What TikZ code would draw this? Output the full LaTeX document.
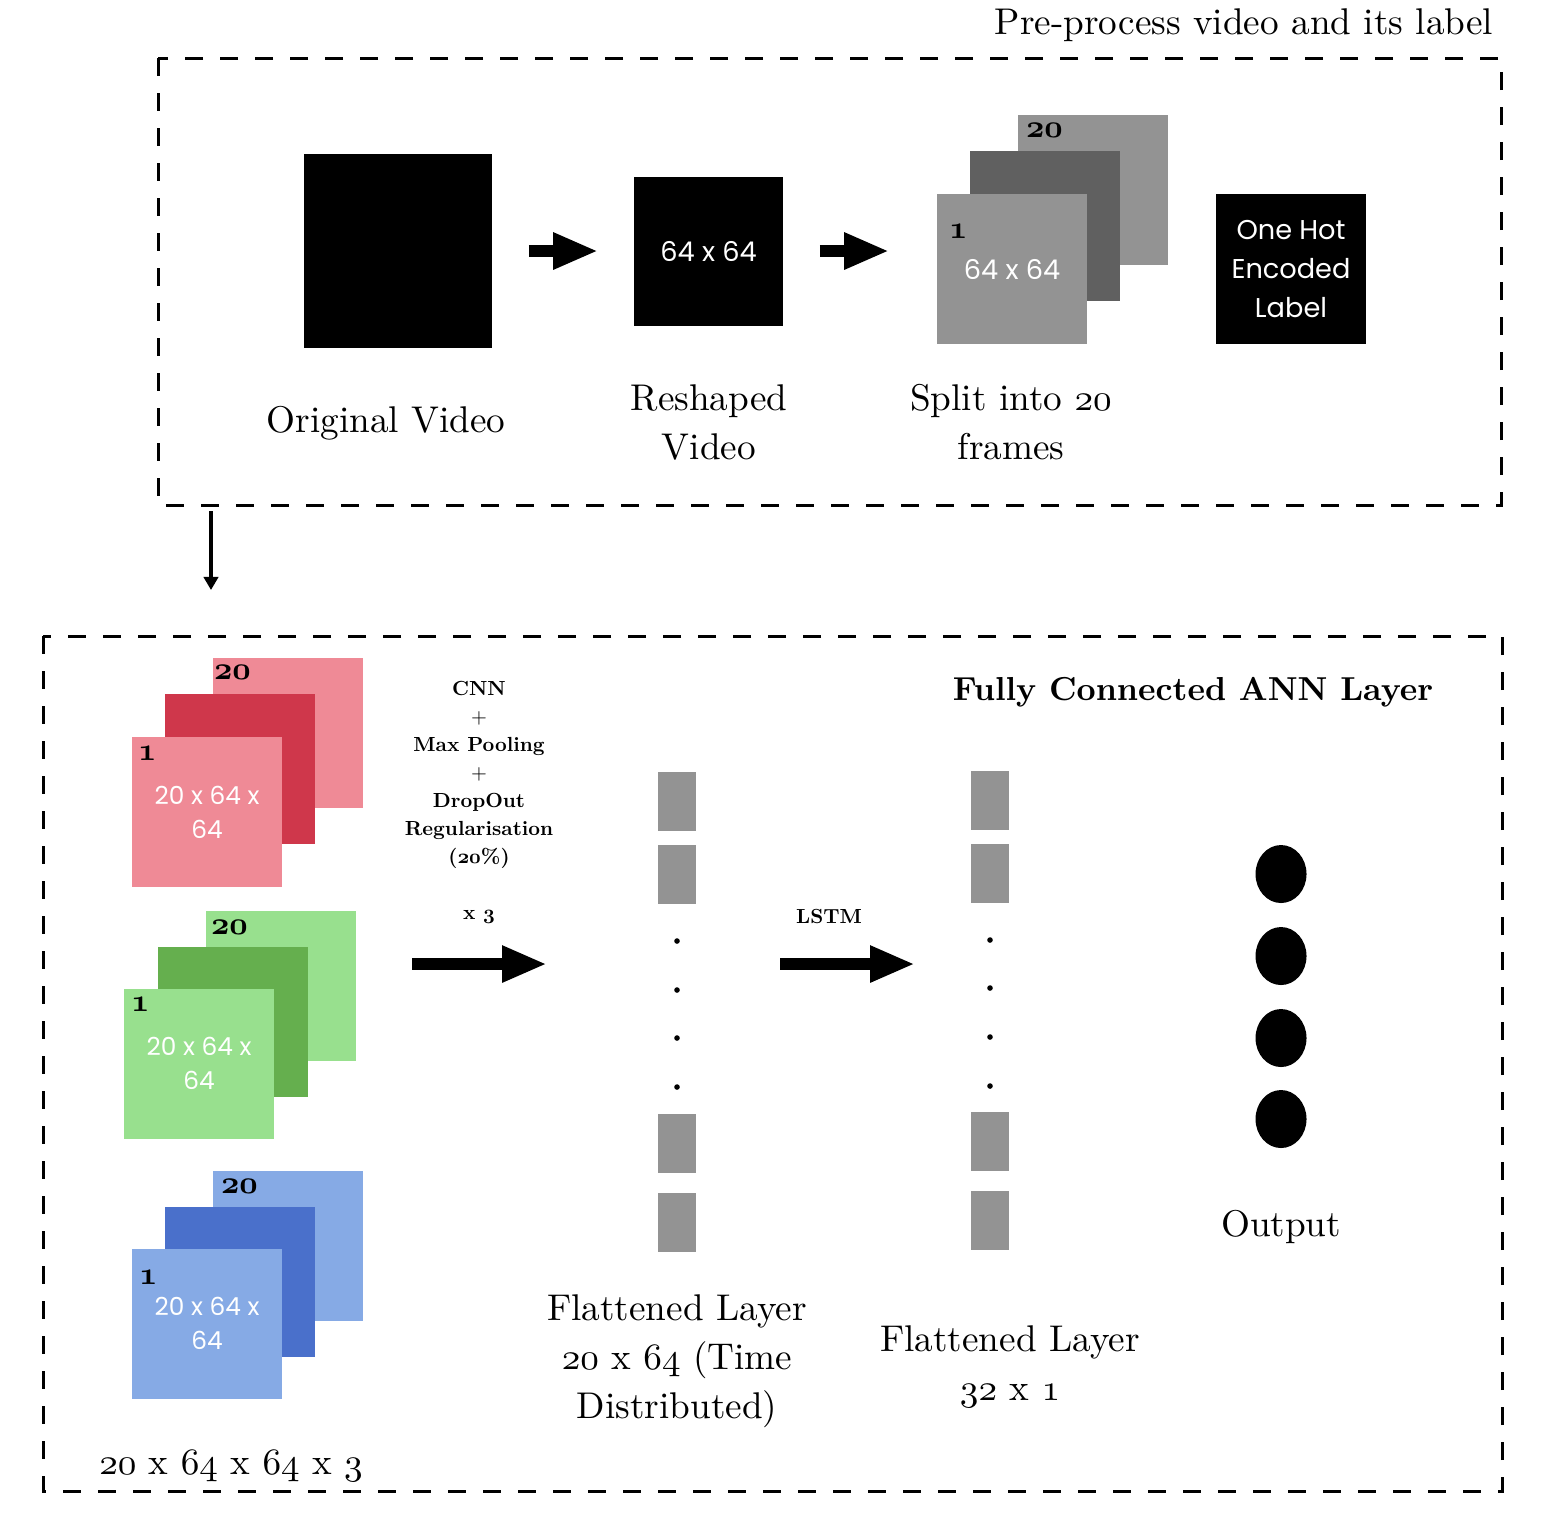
\documentclass[tikz,border=0pt]{standalone}
\usepackage{fontspec}
\usepackage{tikz}
\usetikzlibrary{arrows.meta,shapes.geometric}
\setmainfont{lmroman10-regular.otf}[BoldFont=lmroman10-bold.otf,ItalicFont=lmroman10-italic.otf,BoldItalicFont=lmroman10-bolditalic.otf]
\newfontfamily\popfont{Poppins}
\DeclareFontFamily{OML}{osf}{\skewchar\font127}
\DeclareFontShape{OML}{osf}{m}{it}{<->cmmi10}{}
\DeclareFontShape{OML}{osf}{b}{it}{<->cmmib10}{}
\newcommand{\osn}[1]{{\usefont{OML}{osf}{m}{it}#1}}
\newcommand{\osb}[1]{{\usefont{OML}{osf}{b}{it}#1}}
\definecolor{frmgray}{HTML}{939393}
\definecolor{frmdark}{HTML}{606060}
\definecolor{redlt}{RGB}{239,138,150}
\definecolor{reddk}{RGB}{207,55,75}
\definecolor{grnlt}{RGB}{152,224,142}
\definecolor{grndk}{RGB}{101,175,78}
\definecolor{blult}{RGB}{134,170,229}
\definecolor{bludk}{RGB}{74,112,203}
\tikzset{%
    lbl/.style={align=center,inner sep=0pt,font=\fontsize{9.3}{12.25}\selectfont},
    num/.style={inner sep=0pt,anchor=north west,font=\bfseries\fontsize{8}{10}\selectfont}
}
\begin{document}
\begin{tikzpicture}[x=0.25pt,y=-0.25pt,
        frame/.style={inner sep=0pt,minimum width=37.5pt,minimum height=37.5pt},
        sans/.style={text=white,align=center,font=\popfont\fontsize{6.8}{9.75}\selectfont},
        sanss/.style={text=white,align=center,font=\popfont\fontsize{6.2}{8.5}\selectfont},
        blk/.style={line width=2.8pt,-{Triangle[length=11.25pt,width=8.5pt]}},
        box/.style={draw,line width=0.75pt,dash pattern=on 4.5pt off 4.25pt},
        cnn/.style={align=center,inner sep=0pt,font=\bfseries\fontsize{5.1}{7}\selectfont},
        cell/.style={fill=frmgray,inner sep=0pt,minimum width=9.5pt,minimum height=14.75pt},
        dot/.style={circle,fill=black,inner sep=0pt,minimum size=1.4pt},
        unit/.style={ellipse,fill=black,inner sep=0pt,minimum width=12.75pt,minimum height=14.5pt}
        ]
        \useasboundingbox (0,0) rectangle (1558,1514);

        \node[lbl,anchor=east] (pretitle) at (1494,25) {Pre-process video and its label};
        \draw[box] (158,58) rectangle (1501,505);

        \node[frame,fill=black,minimum width=47pt,minimum height=48.5pt] (orig) at (398,251) {};
        \node[lbl] (origlbl) at (386,423) {Original Video};
        \node[frame,fill=black,minimum width=37.25pt,minimum height=37.25pt,sans] (resh) at (708.5,251) {64 x 64};
        \node[lbl] (reshlbl) at (709,422) {Reshaped\\Video};

        \node[frame,fill=frmgray] (gback) at (1093,190) {};
        \node[frame,fill=frmdark] (gmid) at (1045,226) {};
        \node[frame,fill=frmgray,sans] (gfront) at (1012,269) {64 x 64};
        \node[num] (gtop) at ([xshift=2pt,yshift=-2pt]gback.north west) {\osb{20}};
        \node[num] (gone) at ([xshift=3pt,yshift=-7.5pt]gfront.north west) {\osb{1}};
        \node[lbl] (splitlbl) at (1011,422) {Split into \osn{20}\\frames};

        \node[frame,fill=black,sans] (onehot) at (1291,269) {One Hot\\Encoded\\Label};

        \draw[blk,shorten <=9pt,shorten >=8.75pt] (orig.east) -- (resh.west);
        \draw[blk,shorten <=9pt,shorten >=11.75pt] (resh.east) -- (resh.east -| gfront.west);

        \coordinate (down1) at (211,511);
        \coordinate (down2) at (211,590);
        \draw[line width=1pt,-{Triangle[length=3.3pt,width=3.6pt]}] (down1) -- (down2);

        \draw[box] (43,636) rectangle (1502,1491);

        \node[frame,fill=redlt] (rback) at (288,733) {};
        \node[frame,fill=reddk] (rmid) at (240,769) {};
        \node[frame,fill=redlt,sanss] (rfront) at (207,812) {20 x 64 x\\64};
        \node[num] (rtop) at ([xshift=0.25pt,yshift=-1.75pt]rback.north west) {\osb{20}};
        \node[num] (rone) at ([xshift=1.5pt,yshift=-2.25pt]rfront.north west) {\osb{1}};

        \node[frame,fill=grnlt] (gnback) at (281,985.5) {};
        \node[frame,fill=grndk] (gnmid) at (233,1022) {};
        \node[frame,fill=grnlt,sanss] (gnfront) at (199,1063.5) {20 x 64 x\\64};
        \node[num] (gntop) at ([xshift=1.25pt,yshift=-2.5pt]gnback.north west) {\osb{20}};
        \node[num] (gnone) at ([xshift=1.75pt,yshift=-2.25pt]gnfront.north west) {\osb{1}};

        \node[frame,fill=blult] (bback) at (288,1245.5) {};
        \node[frame,fill=bludk] (bmid) at (240,1282) {};
        \node[frame,fill=blult,sanss] (bfront) at (207,1323.5) {20 x 64 x\\64};
        \node[num] (btop) at ([xshift=2pt,yshift=-2.25pt]bback.north west) {\osb{20}};
        \node[num] (bone) at ([xshift=1.75pt,yshift=-5.5pt]bfront.north west) {\osb{1}};

        \node[lbl] (inputlbl) at (231,1466) {\osn{20} x \osn{64} x \osn{64} x \osn{3}};

        \node[cnn] (cnnlbl) at (479,802) {CNN\\{\mdseries +}\\Max Pooling\\{\mdseries +}\\DropOut\\Regularisation\\(\osb{20}\%)\\[7pt]x \osb{3}};
        \coordinate (cnn1) at (412,964);
        \coordinate (cnn2) at (547,964);
        \draw[blk] (cnn1) -- (cnn2);

        \node[cell] (f1) at (677,801.5) {};
        \node[cell] (f2) at (677,874.5) {};
        \node[dot] (fd1) at (677,941) {};
        \node[dot] (fd2) at (677,990) {};
        \node[dot] (fd3) at (677,1038) {};
        \node[dot] (fd4) at (677,1087) {};
        \node[cell] (f3) at (677,1143) {};
        \node[cell] (f4) at (677,1222) {};
        \node[lbl] (flatlbl) at (677,1361) {Flattened Layer\\\osn{20} x \osn{64} (Time\\Distributed)};

        \node[cnn] (lstmlbl) at (829,916) {LSTM};
        \coordinate (lstm1) at (780,964);
        \coordinate (lstm2) at (915,964);
        \draw[blk] (lstm1) -- (lstm2);

        \node[cell] (s1) at (990,800) {};
        \node[cell] (s2) at (990,873.5) {};
        \node[dot] (sd1) at (990,940) {};
        \node[dot] (sd2) at (990,988) {};
        \node[dot] (sd3) at (990,1037) {};
        \node[dot] (sd4) at (990,1086) {};
        \node[cell] (s3) at (990,1141.5) {};
        \node[cell] (s4) at (990,1220.5) {};
        \node[lbl] (denselbl) at (1010,1367) {Flattened Layer\\\osn{32} x \osn{1}};

        \node[font=\bfseries\fontsize{8.3}{10}\selectfont,inner sep=0pt] (fctitle) at (1193,692) {Fully Connected ANN Layer};
        \node[unit] (o1) at (1281,874) {};
        \node[unit] (o2) at (1281,956) {};
        \node[unit] (o3) at (1281,1038) {};
        \node[unit] (o4) at (1281,1119) {};
        \node[lbl] (outlbl) at (1281,1227) {Output};
    \end{tikzpicture}
\end{document}
